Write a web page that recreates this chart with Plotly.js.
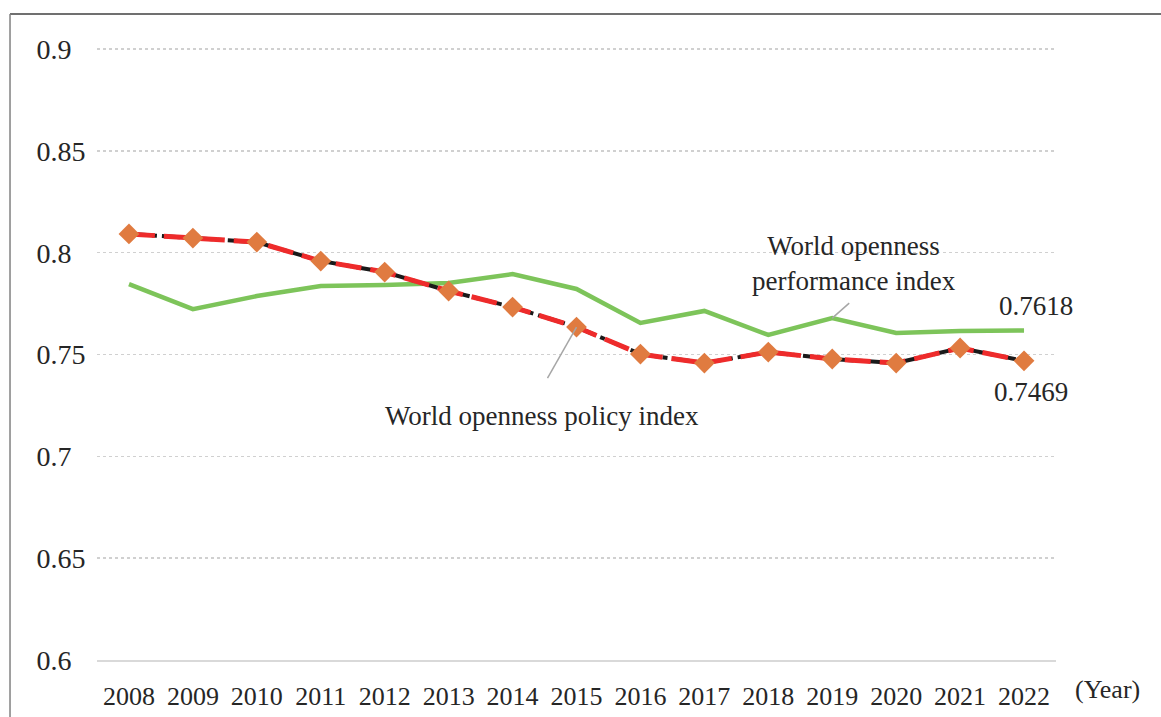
<!DOCTYPE html>
<html>
<head>
<meta charset="utf-8">
<script src="https://cdn.plot.ly/plotly-3.0.1.min.js"></script>
<style>
  html, body { margin: 0; padding: 0; background: #fff; }
  #chart { width: 1161px; height: 717px; }
</style>
</head>
<body>
<div id="chart"></div>
<script>
// ---- Data ----
const years = ['2008','2009','2010','2011','2012','2013','2014','2015','2016','2017','2018','2019','2020','2021','2022'];
const performanceIndex = [0.7846, 0.7723, 0.7787, 0.7836, 0.7841, 0.7851, 0.7895, 0.7822, 0.7655, 0.7714, 0.7596, 0.7679, 0.7606, 0.7615, 0.7618];
const policyIndex = [0.8092, 0.8072, 0.8052, 0.7959, 0.7905, 0.7812, 0.7733, 0.7635, 0.7502, 0.7458, 0.7512, 0.7478, 0.7458, 0.7532, 0.7469];
const yTickValues = [0.6, 0.65, 0.7, 0.75, 0.8, 0.85, 0.9];
const yTickLabels = ['0.6', '0.65', '0.7', '0.75', '0.8', '0.85', '0.9'];
const performanceLabel = 'World openness<br>performance index';
const policyLabel = 'World openness policy index';
const xUnitLabel = '(Year)';

const FONT = '"Liberation Serif", "Times New Roman", serif';
const last = years.length - 1;
const policyPointIdx = years.indexOf('2015');
const perfPointIdx = years.indexOf('2019');

// pad short labels so they appear left-aligned
const maxLen = Math.max(...yTickLabels.map(s => s.length));
const paddedY = yTickLabels.map(s => s + '\u00a0\u00a0'.repeat(maxLen - s.length));

const traces = [
  {
    x: years, y: performanceIndex, type: 'scatter', mode: 'lines',
    line: { color: '#7DC45A', width: 4.5 }, hoverinfo: 'x+y'
  },
  {
    x: years, y: policyIndex, type: 'scatter', mode: 'lines',
    line: { color: '#1a1a1a', width: 4, dash: '18px,5px,5px,5px' }, hoverinfo: 'skip'
  },
  {
    x: years, y: policyIndex, type: 'scatter', mode: 'lines+markers',
    line: { color: '#EE2B2B', width: 5, dash: '26px,9px' },
    marker: { symbol: 'diamond', size: 16, color: '#E07B40', line: { width: 0 } }
  }
];

const layout = {
  width: 1161, height: 717,
  margin: { l: 97, r: 105, t: 46, b: 57 },
  paper_bgcolor: '#fff', plot_bgcolor: '#fff',
  showlegend: false,
  font: { family: FONT, size: 26, color: '#262626' },
  xaxis: {
    type: 'category', range: [-0.5, 14.5], showgrid: false,
    showline: true, linecolor: '#d9d9d9', linewidth: 2,
    ticks: 'outside', ticklen: 12, tickcolor: 'rgba(0,0,0,0)',
    tickfont: { family: FONT, size: 26, color: '#262626' },
    zeroline: false, fixedrange: true
  },
  yaxis: {
    range: [0.6, 0.9015], tickvals: yTickValues, ticktext: paddedY,
    showgrid: true, gridcolor: '#d0d0d0', gridwidth: 1.5, griddash: 'dot',
    showline: false, zeroline: false,
    ticks: 'outside', ticklen: 5, tickcolor: 'rgba(0,0,0,0)',
    tickfont: { family: FONT, size: 28, color: '#262626' },
    fixedrange: true
  },
  annotations: [
    { xref: 'paper', yref: 'paper', x: 0.789, y: 0.6465, text: performanceLabel, showarrow: false,
      xanchor: 'center', yanchor: 'middle',
      font: { family: FONT, size: 27, color: '#262626' }, align: 'center' },
    { xref: 'paper', yref: 'paper', x: 0.464, y: 0.397, text: policyLabel, showarrow: false,
      xanchor: 'center', yanchor: 'middle',
      font: { family: FONT, size: 27, color: '#262626' } },
    { xref: 'x', yref: 'y', x: last, y: performanceIndex[last], text: performanceIndex[last].toFixed(4), showarrow: false,
      xanchor: 'center', yanchor: 'middle',
      xshift: 12, yshift: 25, font: { family: FONT, size: 27, color: '#262626' } },
    { xref: 'x', yref: 'y', x: last, y: policyIndex[last], text: policyIndex[last].toFixed(4), showarrow: false,
      xanchor: 'center', yanchor: 'middle',
      xshift: 7, yshift: -31, font: { family: FONT, size: 27, color: '#262626' } },
    { xref: 'paper', yref: 'paper', x: 1.0535, y: -0.0488, text: xUnitLabel, showarrow: false,
      xanchor: 'center', yanchor: 'middle',
      font: { family: FONT, size: 26, color: '#262626' } }
  ],
  shapes: [
    // leader line to policy index (2015 point)
    { type: 'line', xref: 'x', yref: 'y', xsizemode: 'pixel', ysizemode: 'pixel',
      xanchor: policyPointIdx, yanchor: policyIndex[policyPointIdx], x0: 0, y0: 0, x1: -29, y1: -51,
      line: { color: '#a6a6a6', width: 1.5 } },
    // leader line to performance index (2019 point)
    { type: 'line', xref: 'x', yref: 'y', xsizemode: 'pixel', ysizemode: 'pixel',
      xanchor: perfPointIdx, yanchor: performanceIndex[perfPointIdx], x0: 0, y0: 0, x1: 17, y1: 15,
      line: { color: '#a6a6a6', width: 1.5 } },
    // outer frame
    { type: 'line', xref: 'paper', yref: 'paper', x0: -0.0907, x1: 1.12, y0: 1.0521, y1: 1.0521,
      line: { color: '#404040', width: 1.5 } },
    { type: 'line', xref: 'paper', yref: 'paper', x0: -0.0907, x1: -0.0907, y0: 1.0521, y1: -0.1,
      line: { color: '#808080', width: 1.5 } }
  ]
};

Plotly.newPlot('chart', traces, layout, { displayModeBar: false, staticPlot: true });
</script>
</body>
</html>
